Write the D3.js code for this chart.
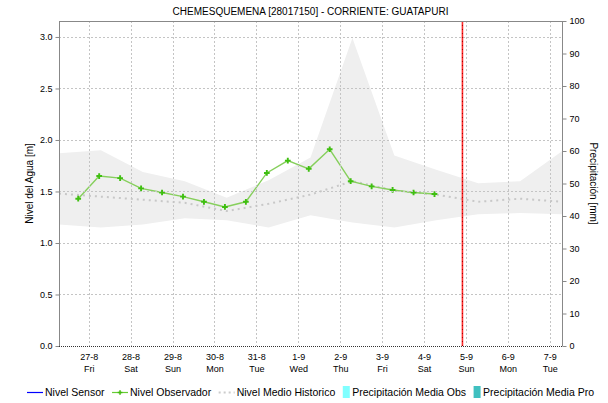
<!DOCTYPE html>
<html>
<head>
<meta charset="utf-8">
<script src="https://cdn.jsdelivr.net/npm/d3@7"></script>
<style>
  body { margin: 0; background: #fff; }
  text { font-family: "Liberation Sans", Arial, sans-serif; fill: #000; }
</style>
</head>
<body>
<svg id="chart" width="608" height="403"></svg>
<script>
// Station and series data
const titulo = "CHEMESQUEMENA [28017150] - CORRIENTE: GUATAPURI";

// Observer readings (twice a day), metres
const fechasObservador = [
  "2021-08-27T06:00", "2021-08-27T18:00", "2021-08-28T06:00", "2021-08-28T18:00",
  "2021-08-29T06:00", "2021-08-29T18:00", "2021-08-30T06:00", "2021-08-30T18:00",
  "2021-08-31T06:00", "2021-08-31T18:00", "2021-09-01T06:00", "2021-09-01T18:00",
  "2021-09-02T06:00", "2021-09-02T18:00", "2021-09-03T06:00", "2021-09-03T18:00",
  "2021-09-04T06:00", "2021-09-04T18:00"
];
const nivelObservador = [
  1.43, 1.65, 1.63, 1.53, 1.49, 1.45, 1.40, 1.35, 1.40,
  1.68, 1.80, 1.72, 1.91, 1.60, 1.55, 1.515, 1.49, 1.475
];

// Historical daily statistics, metres
const fechasHistorico = [
  "2021-08-26T19:00", "2021-08-27T19:00", "2021-08-28T19:00", "2021-08-29T19:00",
  "2021-08-30T19:00", "2021-08-31T19:00", "2021-09-01T19:00", "2021-09-02T19:00",
  "2021-09-03T19:00", "2021-09-04T19:00", "2021-09-05T19:00", "2021-09-06T19:00",
  "2021-09-07T19:00"
];
const medioHistorico  = [1.48, 1.45, 1.42, 1.39, 1.31, 1.38, 1.47, 1.60, 1.51, 1.47, 1.40, 1.43, 1.40];
const maximoHistorico = [1.87, 1.90, 1.69, 1.60, 1.44, 1.61, 1.83, 2.99, 1.85, 1.71, 1.58, 1.60, 1.89];
const minimoHistorico = [1.18, 1.15, 1.18, 1.24, 1.22, 1.15, 1.27, 1.20, 1.15, 1.22, 1.28, 1.29, 1.28];

// Axis ticks
const fechasEje = [
  "2021-08-27T12:00", "2021-08-28T12:00", "2021-08-29T12:00", "2021-08-30T12:00",
  "2021-08-31T12:00", "2021-09-01T12:00", "2021-09-02T12:00", "2021-09-03T12:00",
  "2021-09-04T12:00", "2021-09-05T12:00", "2021-09-06T12:00", "2021-09-07T12:00"
];
const ticksNivel = [0, 0.5, 1, 1.5, 2, 2.5, 3];
const ticksPrecipitacion = [0, 10, 20, 30, 40, 50, 60, 70, 80, 90, 100];
const rangoFechas = ["2021-08-26T19:00", "2021-09-07T19:00"];
const fechaActual = "2021-09-05T10:00";
const nivelMax = 3.155;
const precipMax = 100;

const legendItems = [
  { label: "Nivel Sensor", type: "line", color: "#0000ff" },
  { label: "Nivel Observador", type: "marker", color: "#44bb11" },
  { label: "Nivel Medio Historico", type: "dash", color: "#cccccc" },
  { label: "Precipitación Media Obs", type: "rect", color: "#80ffff" },
  { label: "Precipitación Media Pro", type: "rect", color: "#40c0c0" }
];

const parse = d3.timeParse("%Y-%m-%dT%H:%M");
const svg = d3.select("#chart");
const L = 59, R = 562, T = 21, B = 346;

const x = d3.scaleTime().domain(rangoFechas.map(parse)).range([L, R]);
const yL = d3.scaleLinear().domain([0, nivelMax]).range([B, T]);
const yR = d3.scaleLinear().domain([0, precipMax]).range([B, T]);

svg.append("defs").append("clipPath").attr("id", "plot")
  .append("rect").attr("x", L).attr("y", T).attr("width", R - L).attr("height", B - T);

const plot = svg.append("g").attr("clip-path", "url(#plot)");

// Historical min–max band
const hist = fechasHistorico.map((f, i) => ({
  t: parse(f), mean: medioHistorico[i], hi: maximoHistorico[i], lo: minimoHistorico[i]
}));
plot.append("path")
  .datum(hist)
  .attr("fill", "#efefef")
  .attr("d", d3.area().x(d => x(d.t)).y0(d => yL(d.lo)).y1(d => yL(d.hi)));

// Grid
const grid = svg.append("g").attr("stroke", "#c4c4c4").attr("stroke-width", 1)
  .attr("stroke-dasharray", "2,2").attr("shape-rendering", "crispEdges");
fechasEje.map(parse).forEach(t => {
  grid.append("line").attr("x1", Math.round(x(t)) + 0.5).attr("x2", Math.round(x(t)) + 0.5)
    .attr("y1", T).attr("y2", B);
});
ticksNivel.filter(v => v > 0).forEach(v => {
  grid.append("line").attr("x1", L).attr("x2", R)
    .attr("y1", Math.round(yL(v)) + 0.5).attr("y2", Math.round(yL(v)) + 0.5);
});

// Historical mean
plot.append("path")
  .datum(hist)
  .attr("fill", "none")
  .attr("stroke", "#c8c8c8")
  .attr("stroke-width", 2)
  .attr("stroke-dasharray", "2,4")
  .attr("d", d3.line().x(d => x(d.t)).y(d => yL(d.mean)));

// Observer level
const obs = fechasObservador.map((f, i) => ({ t: parse(f), v: nivelObservador[i] }));
plot.append("path")
  .datum(obs)
  .attr("fill", "none")
  .attr("stroke", "#86cf5c")
  .attr("stroke-width", 1.4)
  .attr("d", d3.line().x(d => x(d.t)).y(d => yL(d.v)));
plot.selectAll(".pt").data(obs).join("path")
  .attr("class", "pt")
  .attr("transform", d => `translate(${x(d.t)},${yL(d.v)})`)
  .attr("d", d3.symbol(d3.symbolCross, 18)())
  .attr("fill", "#3fbf10");

// Current date marker
const xa = x(parse(fechaActual));
svg.append("line").attr("x1", xa).attr("x2", xa).attr("y1", T).attr("y2", B)
  .attr("stroke", "#ff2a2a").attr("stroke-width", 1.6);
svg.append("line").attr("x1", xa).attr("x2", xa).attr("y1", T).attr("y2", B)
  .attr("stroke", "#a00000").attr("stroke-width", 1).attr("stroke-dasharray", "1,3");

// Frame
svg.append("line").attr("x1", L).attr("x2", R).attr("y1", T + 0.5).attr("y2", T + 0.5)
  .attr("stroke", "#888");

// Left axis
const axL = svg.append("g").attr("transform", `translate(${L + 0.5},0)`)
  .call(d3.axisLeft(yL).tickValues(ticksNivel).tickFormat(d3.format(".1f")).tickSize(4).tickPadding(3));
axL.select(".domain").attr("stroke", "#888").attr("d", `M0,${T}V${B}`);
axL.selectAll(".tick line").attr("stroke", "#888");
axL.selectAll(".tick text").attr("font-size", 9).style("font-family", "'Liberation Sans', Arial, sans-serif");

// Right axis
const axR = svg.append("g").attr("transform", `translate(${R + 0.5},0)`)
  .call(d3.axisRight(yR).tickValues(ticksPrecipitacion).tickSize(4).tickPadding(3));
axR.select(".domain").attr("stroke", "#888").attr("d", `M0,${T}V${B}`);
axR.selectAll(".tick line").attr("stroke", "#888");
axR.selectAll(".tick text").attr("font-size", 9).style("font-family", "'Liberation Sans', Arial, sans-serif");

// Bottom axis
const fmtFecha = d3.timeFormat("%-d-%-m");
const fmtDia = d3.timeFormat("%a");
const axB = svg.append("g").attr("transform", `translate(0,${B + 0.5})`)
  .call(d3.axisBottom(x).tickValues(fechasEje.map(parse)).tickSize(0).tickPadding(0).tickFormat(""));
axB.select(".domain").attr("stroke", "#333").attr("stroke-dasharray", "1,1").attr("d", `M${L},0H${R}`);
axB.selectAll(".tick").each(function (d) {
  const g = d3.select(this);
  g.append("text").attr("y", 13).attr("text-anchor", "middle").attr("font-size", 9).text(fmtFecha(d));
  g.append("text").attr("y", 25).attr("text-anchor", "middle").attr("font-size", 9).text(fmtDia(d));
});

// Titles
svg.append("text").attr("x", (L + R) / 2).attr("y", 15).attr("text-anchor", "middle")
  .attr("font-size", 10).text(titulo);
svg.append("text").attr("transform", `translate(33,${(T + B) / 2}) rotate(-90)`)
  .attr("text-anchor", "middle").attr("font-size", 10).text("Nivel del Agua [m]");
svg.append("text").attr("transform", `translate(590,${(T + B) / 2}) rotate(90)`)
  .attr("text-anchor", "middle").attr("font-size", 10).text("Precipitación [mm]");

// Legend
const legY = 392;
const leg = svg.append("g");
let lx = 27;
legendItems.forEach(it => {
  const g = leg.append("g").attr("transform", `translate(${lx},${legY})`);
  let w;
  if (it.type === "rect") {
    g.append("rect").attr("x", 0).attr("y", -6).attr("width", 7).attr("height", 12).attr("fill", it.color);
    w = 9.5;
  } else {
    const ln = g.append("line").attr("x1", 0).attr("x2", 16).attr("y1", 0.5).attr("y2", 0.5)
      .attr("stroke", it.color).attr("stroke-width", it.type === "dash" ? 2 : 1.2);
    if (it.type === "dash") ln.attr("stroke-dasharray", "2,3");
    if (it.type === "marker") {
      ln.attr("stroke", "#66cc33");
      g.append("path").attr("transform", "translate(8,0.5)").attr("d", d3.symbol(d3.symbolCross, 12)()).attr("fill", it.color);
    }
    w = 18;
  }
  const t = g.append("text").attr("x", w).attr("y", 4).attr("font-size", 10.5).text(it.label);
  lx += w + t.node().getComputedTextLength() + 7.5;
});
</script>
</body>
</html>
